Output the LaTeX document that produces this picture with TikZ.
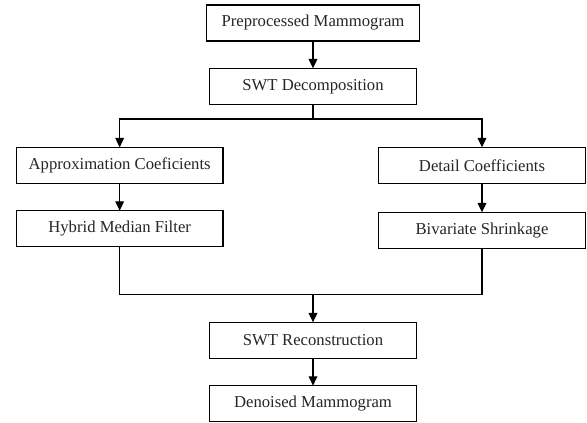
\documentclass[tikz,border=0pt]{standalone}
\usepackage{fontspec}
\setmainfont{Liberation Serif}
\usetikzlibrary{positioning, arrows.meta, calc}
\tikzset{
  procbox/.style={
    draw=black, line width=1pt,
    fill=white,
    text=black!85,
    align=center,
    inner sep=2pt,
    outer sep=0pt,
    minimum width=155pt,
    minimum height=27pt,
    font=\fontsize{12.5}{14}\selectfont
  },
  flow/.style={
    -{Triangle[length=7pt,width=6.5pt]},
    line width=0.9pt,
    draw=black
  },
  link/.style={
    line width=0.9pt,
    draw=black
  }
}

\begin{document}
\begin{tikzpicture}[x=0.75pt, y=-0.75pt, node distance=20.5pt and 20pt]
  \useasboundingbox (0,0) rectangle (587,423);

  \node[procbox, minimum width=160pt] (pre) at (313,23) {Preprocessed Mammogram};
  \node[procbox, below=of pre] (dec) {SWT Decomposition};

  \node[procbox, below=32.25pt of dec, xshift=-145pt] (approx) {Approximation Coeficients};
  \node[procbox, below=of approx] (hyb) {Hybrid Median Filter};

  \node[procbox, below=32.25pt of dec, xshift=126.75pt] (detail) {Detail Coefficients};
  \node[procbox, below=21.75pt of detail] (biv) {Bivariate Shrinkage};

  \node[procbox, below=163.5pt of dec] (rec) {SWT Reconstruction};
  \node[procbox, below=of rec] (den) {Denoised Mammogram};

  \coordinate (split) at ($(dec.south)+(0,-11pt)$);
  \coordinate (merge) at ($(rec.north)+(0,21pt)$);

  \draw[flow] (pre) -- (dec);
  \draw[link] (dec.south) -- (split);
  \draw[flow] (split) -| (approx.north);
  \draw[flow] (split) -| (detail.north);
  \draw[flow] (approx) -- (hyb);
  \draw[flow] (detail) -- (biv);

  \draw[link] (hyb.south) |- (merge);
  \draw[link] (biv.south) |- (merge);
  \draw[flow] (merge) -- (rec);
  \draw[flow] (rec) -- (den);
\end{tikzpicture}
\end{document}
